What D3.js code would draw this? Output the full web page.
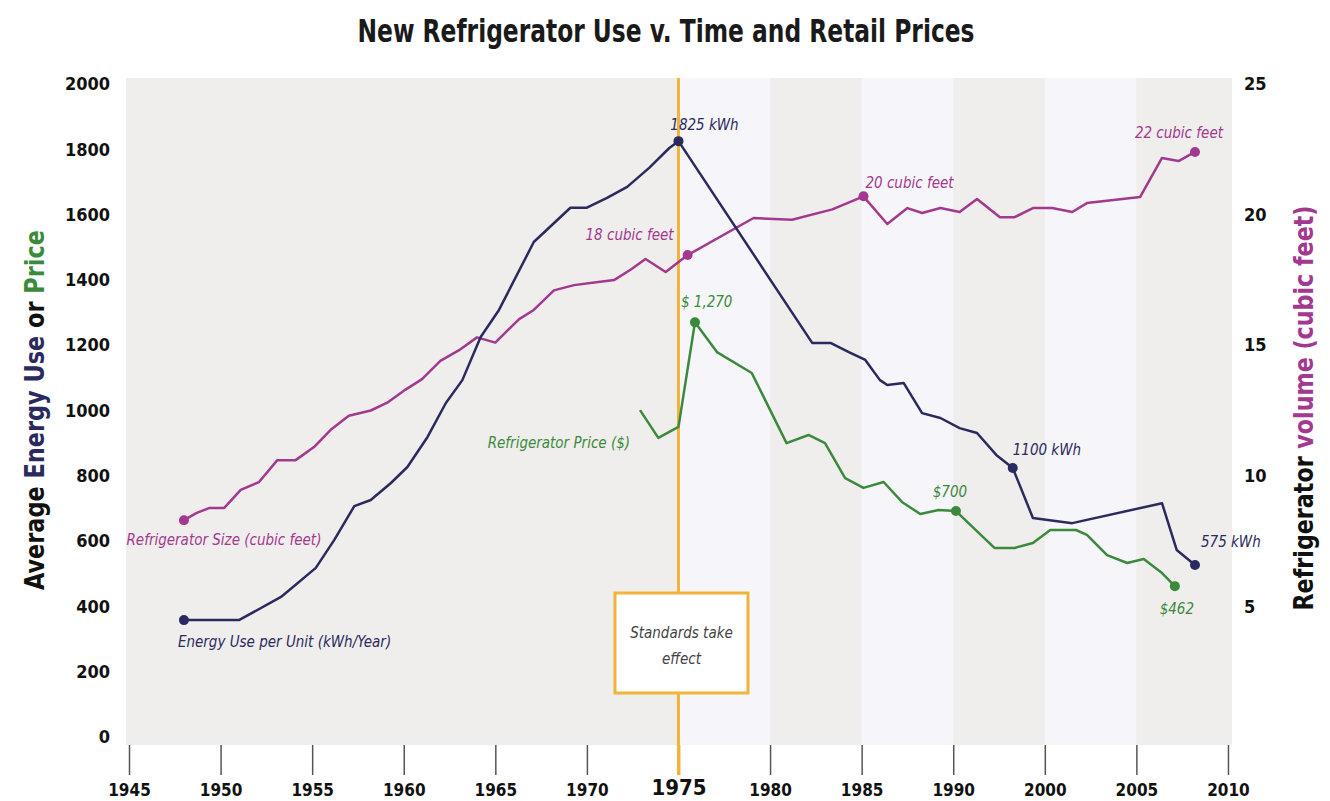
<!DOCTYPE html>
<html>
<head>
<meta charset="utf-8">
<script src="https://cdn.jsdelivr.net/npm/d3@7"></script>
<style>
  body { margin: 0; background: #fff; }
  svg { display: block; }
  .tick text { font-family: "DejaVu Sans Condensed", "DejaVu Sans", sans-serif; font-weight: bold; fill: #111; }
  .note { font-family: "Liberation Sans Narrow", "DejaVu Sans Condensed", sans-serif; font-style: italic; font-size: 15px; }
</style>
</head>
<body>
<div id="chart"></div>
<script>
const width = 1330, height = 801;

// x axis tick labels (note: the chart skips 1995)
const tickYears = [1945, 1950, 1955, 1960, 1965, 1970, 1975, 1980, 1985, 1990, 2000, 2005, 2010];
const leftTicks = [0, 200, 400, 600, 800, 1000, 1200, 1400, 1600, 1800, 2000];
const rightTicks = [5, 10, 15, 20, 25];

// energy use per unit, kWh/year
const energyData = [
  [1948, 358], [1951, 358], [1953.3, 429], [1955.2, 518], [1956.2, 603], [1957.3, 707],
  [1958.2, 726], [1959.3, 778], [1960.2, 827], [1961.3, 919], [1962.3, 1023], [1963.2, 1093],
  [1964.2, 1225], [1965.2, 1308], [1967.1, 1516], [1969.1, 1621], [1970, 1621], [1971.1, 1651],
  [1972.2, 1685], [1973.4, 1743], [1974.5, 1804], [1975, 1825], [1982.3, 1207], [1983.3, 1207],
  [1984.3, 1179], [1985.2, 1155], [1986, 1093], [1986.4, 1078], [1987.3, 1084], [1988.3, 992],
  [1989.3, 977], [1990.7, 946], [1992.6, 931], [1994.7, 864], [1996.5, 824], [1998.7, 671],
  [2001.5, 655], [2006.4, 716], [2007.2, 573], [2008.2, 527]
];

// refrigerator size, cubic feet (right axis)
const sizeData = [
  [1948, 8.3], [1948.7, 8.58], [1949.4, 8.77], [1950.2, 8.77], [1951.1, 9.46], [1952.1, 9.76],
  [1953.1, 10.6], [1954.1, 10.6], [1955.1, 11.1], [1956, 11.75], [1957, 12.3], [1958.2, 12.5],
  [1959.1, 12.8], [1960.1, 13.3], [1961, 13.7], [1962, 14.4], [1963, 14.8], [1964, 15.3],
  [1965, 15.1], [1966.3, 16.0], [1967.1, 16.35], [1968.2, 17.1], [1969.3, 17.3], [1970.4, 17.4],
  [1971.5, 17.5], [1972.4, 17.9], [1973.2, 18.3], [1974.3, 17.8], [1975.5, 18.45], [1979.1, 19.87],
  [1981.2, 19.8], [1983.4, 20.2], [1985.1, 20.7], [1986.4, 19.64], [1987.5, 20.25], [1988.3, 20.06],
  [1989.3, 20.25], [1990.7, 20.1], [1992.6, 20.6], [1995.1, 19.9], [1996.7, 19.9], [1998.7, 20.25],
  [2000.4, 20.25], [2001.5, 20.1], [2002.3, 20.44], [2005.2, 20.67], [2006.4, 22.17], [2007.3, 22.05],
  [2008.2, 22.4]
];

// refrigerator price, $
const priceData = [
  [1972.9, 1001], [1973.9, 916], [1975, 950], [1975.9, 1270], [1977.1, 1179], [1979, 1115],
  [1980.9, 900], [1982.1, 925], [1983, 900], [1984.1, 793], [1985.1, 763], [1986.2, 781],
  [1987.2, 720], [1988.2, 683], [1989.2, 695], [1990.3, 692], [1994.5, 579], [1996.7, 579],
  [1998.7, 594], [2000.3, 634], [2001.7, 634], [2002.3, 619], [2003.4, 557], [2004.5, 533],
  [2005.4, 545], [2006.4, 502], [2007.1, 462]
];

const colors = { energy: "#2b2a5e", size: "#a3398f", price: "#3b8a3c", std: "#f0b43a" };

const svg = d3.select("#chart").append("svg")
  .attr("width", width).attr("height", height);

// one evenly spaced slot per labelled tick
const step = 91.58;
const x = d3.scaleLinear().domain(tickYears).range(tickYears.map((d, i) => 129 + i * step));
const y = d3.scaleLinear().domain([0, 2000]).range([737, 84]);
const yR = d3.scaleLinear().domain([0, 25]).range([737, 84]);

// --- background ---
const plotLeft = 126, plotRight = 1232, plotTop = 78, plotBottom = 745;
svg.append("rect")
  .attr("x", plotLeft).attr("y", plotTop)
  .attr("width", plotRight - plotLeft).attr("height", plotBottom - plotTop)
  .attr("fill", "#efeeec");

// lighter bands after 1975
const bandStarts = [1975, 1985, 2000];
bandStarts.forEach(b => {
  const i = tickYears.indexOf(b);
  const x0 = x(b), x1 = x(tickYears[i + 1]);
  svg.append("rect")
    .attr("x", x0).attr("y", plotTop)
    .attr("width", x1 - x0).attr("height", plotBottom - plotTop)
    .attr("fill", "#f6f5f9");
});

// --- title ---
svg.append("text")
  .attr("x", 666).attr("y", 42)
  .attr("text-anchor", "middle")
  .attr("textLength", 617).attr("lengthAdjust", "spacingAndGlyphs")
  .style("font-family", "'DejaVu Sans Condensed', 'DejaVu Sans', sans-serif")
  .style("font-weight", "bold").style("font-size", "32px").style("fill", "#1a1a1a")
  .text("New Refrigerator Use v. Time and Retail Prices");

// --- axes ---
const xAxis = svg.append("g")
  .attr("transform", `translate(0,${plotBottom})`)
  .call(d3.axisBottom(x).tickValues(tickYears).tickSize(30).tickPadding(9).tickFormat(d => String(d)));
xAxis.select(".domain").remove();
xAxis.selectAll(".tick line").attr("stroke", "#555").attr("stroke-width", 1.5);
xAxis.selectAll(".tick text").style("font-size", "17px");
const t1975 = xAxis.selectAll(".tick").filter(d => d === 1975);
t1975.select("line").attr("stroke", colors.std).attr("stroke-width", 3);
t1975.select("text").attr("y", 34).style("font-size", "22px").style("font-weight", "900");

const yAxis = svg.append("g")
  .attr("transform", "translate(110,0)")
  .call(d3.axisLeft(y).tickValues(leftTicks).tickSize(0).tickPadding(0).tickFormat(d => String(d)));
yAxis.select(".domain").remove();
yAxis.selectAll(".tick text").style("font-size", "18px");

const yAxisR = svg.append("g")
  .attr("transform", "translate(1244,0)")
  .call(d3.axisRight(yR).tickValues(rightTicks).tickSize(0).tickPadding(0).tickFormat(d => String(d)));
yAxisR.select(".domain").remove();
yAxisR.selectAll(".tick text").style("font-size", "18px");

// axis titles
const titleFont = "'DejaVu Sans Condensed', 'DejaVu Sans', sans-serif";
const lt = svg.append("text")
  .attr("transform", "translate(44,410) rotate(-90)")
  .attr("text-anchor", "middle")
  .attr("textLength", 360).attr("lengthAdjust", "spacingAndGlyphs")
  .style("font-family", titleFont).style("font-weight", "bold").style("font-size", "26px");
lt.append("tspan").attr("fill", "#111").text("Average ");
lt.append("tspan").attr("fill", colors.energy).text("Energy Use ");
lt.append("tspan").attr("fill", "#111").text("or ");
lt.append("tspan").attr("fill", colors.price).text("Price");

const rt = svg.append("text")
  .attr("transform", "translate(1313,408) rotate(-90)")
  .attr("text-anchor", "middle")
  .attr("textLength", 405).attr("lengthAdjust", "spacingAndGlyphs")
  .style("font-family", titleFont).style("font-weight", "bold").style("font-size", "26px");
rt.append("tspan").attr("fill", "#111").text("Refrigerator ");
rt.append("tspan").attr("fill", colors.size).text("volume (cubic feet)");

// --- standards line and box ---
svg.append("line")
  .attr("x1", x(1975)).attr("x2", x(1975))
  .attr("y1", plotTop).attr("y2", plotBottom + 30)
  .attr("stroke", colors.std).attr("stroke-width", 3);

const boxW = 133, boxH = 100;
svg.append("rect")
  .attr("x", x(1975) + 3 - boxW / 2).attr("y", 593)
  .attr("width", boxW).attr("height", boxH)
  .attr("fill", "#fff").attr("stroke", colors.std).attr("stroke-width", 3);
svg.append("text").attr("class", "note")
  .attr("x", x(1975) + 3).attr("y", 638).attr("text-anchor", "middle").attr("fill", "#444")
  .text("Standards take");
svg.append("text").attr("class", "note")
  .attr("x", x(1975) + 3).attr("y", 664).attr("text-anchor", "middle").attr("fill", "#444")
  .text("effect");

// --- lines ---
const lineL = d3.line().x(d => x(d[0])).y(d => y(d[1]));
const lineR = d3.line().x(d => x(d[0])).y(d => yR(d[1]));

svg.append("path").attr("d", lineR(sizeData))
  .attr("fill", "none").attr("stroke", colors.size).attr("stroke-width", 2.5).attr("stroke-linejoin", "round");
svg.append("path").attr("d", lineL(energyData))
  .attr("fill", "none").attr("stroke", colors.energy).attr("stroke-width", 2.5).attr("stroke-linejoin", "round");
svg.append("path").attr("d", lineL(priceData))
  .attr("fill", "none").attr("stroke", colors.price).attr("stroke-width", 2.5).attr("stroke-linejoin", "round");

// --- highlighted points and their notes ---
const energyNotes = [
  { year: 1948, text: "Energy Use per Unit (kWh/Year)", dx: -6, dy: 27, anchor: "start" },
  { year: 1975, text: "1825 kWh", dx: 26, dy: -11, anchor: "middle" },
  { year: 1996.5, text: "1100 kWh", dx: 0, dy: -13, anchor: "start" },
  { year: 2008.2, text: "575 kWh", dx: 6, dy: -18, anchor: "start" }
];
const sizeNotes = [
  { year: 1948, text: "Refrigerator Size (cubic feet)", dx: 40, dy: 25, anchor: "middle" },
  { year: 1975.5, text: "18 cubic feet", dx: -14, dy: -15, anchor: "end" },
  { year: 1985.1, text: "20 cubic feet", dx: 2, dy: -8, anchor: "start" },
  { year: 2008.2, text: "22 cubic feet", dx: 28, dy: -14, anchor: "end" }
];
const priceNotes = [
  { year: 1972.9, text: "Refrigerator Price ($)", dx: -10, dy: 38, anchor: "end", noDot: true },
  { year: 1975.9, text: "$ 1,270", dx: -14, dy: -15, anchor: "start" },
  { year: 1990.3, text: "$700", dx: -6, dy: -14, anchor: "middle" },
  { year: 2007.1, text: "$462", dx: 2, dy: 28, anchor: "middle" }
];

function annotate(notes, data, yScale, color) {
  notes.forEach(n => {
    const p = data.find(d => d[0] === n.year);
    const cx = x(p[0]), cy = yScale(p[1]);
    if (!n.noDot) {
      svg.append("circle").attr("cx", cx).attr("cy", cy).attr("r", 5).attr("fill", color);
    }
    svg.append("text").attr("class", "note")
      .attr("x", cx + n.dx).attr("y", cy + n.dy)
      .attr("text-anchor", n.anchor).attr("fill", color)
      .text(n.text);
  });
}
annotate(energyNotes, energyData, y, colors.energy);
annotate(sizeNotes, sizeData, yR, colors.size);
annotate(priceNotes, priceData, y, colors.price);
</script>
</body>
</html>
